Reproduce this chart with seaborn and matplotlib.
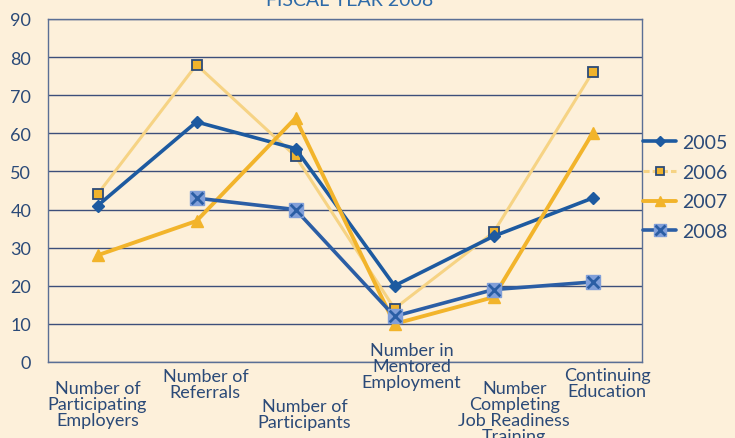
import numpy as np
import pandas as pd
import matplotlib
matplotlib.use("Agg")
import matplotlib.pyplot as plt
import seaborn as sns
from matplotlib.lines import Line2D

categories = ["Number of\nParticipating\nEmployers", "Number of\nReferrals",
              "Number of\nParticipants", "Number in\nMentored\nEmployment",
              "Number\nCompleting\nJob Readiness\nTraining", "Continuing\nEducation"]
years = ["2005", "2006", "2007", "2008"]
v2005 = [41, 63, 56, 20, 33, 43]
v2006 = [44, 78, 54, 14, 34, 76]
v2007 = [28, 37, 64, 10, 17, 60]
v2008 = [np.nan, 43, 40, 12, 19, 21]

bg = "#fdf0da"
txt = "#2b4a78"
sns.set_theme(style="white")
plt.rcParams["font.family"] = ["Lato", "DejaVu Sans"]

df = pd.DataFrame({"pos": list(range(6)) * 4,
                   "value": v2005 + v2006 + v2007 + v2008,
                   "year": np.repeat(years, 6)})

fig = plt.figure(figsize=(7.35, 4.39), dpi=100, facecolor=bg)
ax = fig.add_axes([48 / 735, 1 - 363 / 439, 594 / 735, 343 / 439])
ax.set_facecolor(bg)

styles = {
    "2005": dict(color="#1d5aa0", lw=2.6, marker="D", ms=6.5, mfc="#1d5aa0", mec="#1d5aa0"),
    "2006": dict(color="#f6d384", lw=2.2, marker="s", ms=7, mfc="#f0b32c", mec="#2b4a78", mew=1.3),
    "2007": dict(color="#f2b42b", lw=2.8, marker="^", ms=9, mfc="#f2b42b", mec="#f2b42b"),
    "2008": dict(color="#2b5ea5", lw=2.6, marker="s", ms=10, mfc="#819fd9", mec="#819fd9"),
}
zorder = {"2006": 3, "2005": 4, "2007": 5, "2008": 6}

for yr in years:
    st = styles[yr]
    sub = df[df["year"] == yr].dropna()
    sns.lineplot(data=sub, x="pos", y="value", ax=ax, color=st["color"], lw=st["lw"],
                 marker=st["marker"], markersize=st["ms"], markerfacecolor=st["mfc"],
                 markeredgecolor=st["mec"], markeredgewidth=st.get("mew", 1),
                 zorder=zorder[yr], legend=False)
sub = df[df["year"] == "2008"].dropna()
ax.scatter(sub["pos"], sub["value"], marker="x", s=70, color="#2b5ea5", lw=2, zorder=7)

ax.set_xlim(-0.5, 5.5)
ax.set_ylim(0, 90)
ax.set_yticks(range(0, 91, 10))
ax.set_yticklabels([str(v) for v in range(0, 91, 10)], color=txt, fontsize=13)
ax.set_xticks(np.arange(-0.5, 6, 1))
ax.set_xticklabels([])
ax.tick_params(axis="x", direction="out", length=4, color="#5a6f95", width=1)
ax.tick_params(axis="y", direction="out", length=4, color="#5a6f95", width=1, pad=8)
ax.set_xlabel("")
ax.set_ylabel("")
ax.grid(axis="y", color="#3d4f7a", lw=1)
ax.set_axisbelow(True)
for s in ax.spines.values():
    s.set_color("#5a6f95")
    s.set_linewidth(1)

# staggered category labels
offsets = [0.0, 0.09, 0.09, 0.17, 0.21, 0.15]
tops = [381, 369, 399, 343, 381, 368]
for i, lab in enumerate(categories):
    ax.text(i + offsets[i], 1 - (tops[i] - 20) / 343, lab,
            transform=ax.get_xaxis_transform(), ha="center", va="top",
            fontsize=13, color=txt, linespacing=1.0)

# legend
handles = []
for yr in years:
    st = styles[yr]
    h = Line2D([], [], color=st["color"], lw=st["lw"], marker=st["marker"],
               markersize=st["ms"] * 0.8, markerfacecolor=st["mfc"],
               markeredgecolor=st["mec"], markeredgewidth=st.get("mew", 1))
    if yr == "2006":
        h.set_linestyle((0, (2, 1)))
    if yr == "2008":
        h = (h, Line2D([], [], color="none", marker="x", markersize=7,
                       markeredgecolor="#2b5ea5", markeredgewidth=2))
    handles.append(h)
leg = fig.legend(handles, years, loc="center left", bbox_to_anchor=(643 / 735, 1 - 188 / 439),
                 frameon=False, fontsize=14, handlelength=1.7, handletextpad=0.3,
                 labelspacing=0.65, borderaxespad=0, borderpad=0)
for t in leg.get_texts():
    t.set_color(txt)

fig.text(350 / 735, 1.0, "FISCAL YEAR 2008", ha="center", va="center",
         fontsize=14, color="#2d6aa8")

fig.savefig("out.png", dpi=100, facecolor=bg)
